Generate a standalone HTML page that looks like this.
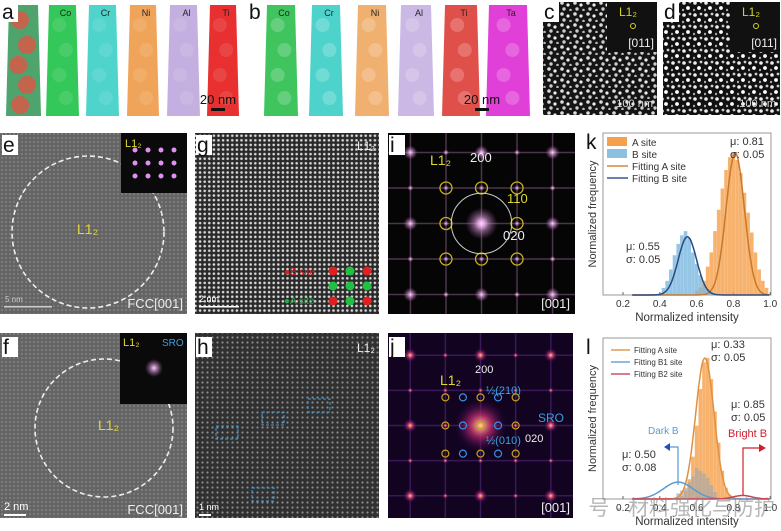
<!DOCTYPE html>
<html><head><meta charset="utf-8"><style>
html,body{margin:0;padding:0;background:#fff;width:781px;height:531px;overflow:hidden}
svg{display:block;font-family:"Liberation Sans","Noto Sans CJK SC",sans-serif}
</style></head><body>
<svg id="fig" width="781" height="531" viewBox="0 0 781 531">
<defs>
<pattern id="latE" width="4" height="4" patternUnits="userSpaceOnUse"><rect width="4" height="4" fill="#646464"/><circle cx="2" cy="2" r="0.9" fill="#8c8c8c"/></pattern>
<pattern id="latG" width="4.6" height="4.6" patternUnits="userSpaceOnUse"><rect width="4.6" height="4.6" fill="#2a2a2a"/><circle cx="2.3" cy="2.3" r="1.3" fill="#d8d8d8"/></pattern>
<pattern id="latH" width="5" height="5" patternUnits="userSpaceOnUse"><rect width="5" height="5" fill="#303030"/><circle cx="2.5" cy="2.5" r="1.1" fill="#8c8c8c"/></pattern>
<pattern id="dots" width="13" height="11" patternUnits="userSpaceOnUse"><rect width="13" height="11" fill="#151515"/><circle cx="3" cy="3" r="1.8" fill="#ddd"/><circle cx="9" cy="5" r="1.6" fill="#eee"/><circle cx="5" cy="9" r="1.7" fill="#ccc"/><circle cx="11.5" cy="10" r="1.3" fill="#bbb"/></pattern>
<pattern id="dots2" width="11" height="12" patternUnits="userSpaceOnUse"><rect width="11" height="12" fill="#111"/><circle cx="2" cy="3" r="1.8" fill="#eee"/><circle cx="8" cy="2" r="1.4" fill="#ccc"/><circle cx="6" cy="8" r="1.9" fill="#fff"/><circle cx="1" cy="10" r="1.2" fill="#aaa"/></pattern>
<radialGradient id="glowP"><stop offset="0" stop-color="#ffd0ff"/><stop offset="1" stop-color="#b060b0" stop-opacity="0"/></radialGradient>
<radialGradient id="glowJ"><stop offset="0" stop-color="#ffd080"/><stop offset="0.4" stop-color="#c03070" stop-opacity="0.8"/><stop offset="1" stop-color="#300050" stop-opacity="0"/></radialGradient>
</defs>
<g id="row1"></g>
<g id="row2"></g>
<g id="chartK"></g>
<g id="chartL"></g>
</svg>
<script>
const NS="http://www.w3.org/2000/svg";
function mk(p,t,a,txt){const e=document.createElementNS(NS,t);for(const k in a)e.setAttribute(k,a[k]);if(txt!==undefined)e.textContent=txt;p.appendChild(e);return e;}
const r1=document.getElementById('row1');
const r2=document.getElementById('row2');

// ---------- chart data ----------
const kBinsA=[0.60,0.62,0.64,0.66,0.68,0.70,0.72,0.74,0.76,0.78,0.80,0.82,0.84,0.86,0.88,0.90,0.92,0.94,0.96,0.98];
const kValsA=[0.03,0.05,0.10,0.20,0.30,0.45,0.60,0.75,0.88,0.97,1.00,0.95,0.86,0.72,0.58,0.44,0.30,0.18,0.10,0.05];
const kBinsB=[0.42,0.44,0.46,0.48,0.50,0.52,0.54,0.56,0.58,0.60,0.62,0.64,0.66,0.68];
const kValsB=[0.05,0.10,0.18,0.28,0.36,0.42,0.45,0.40,0.30,0.22,0.14,0.08,0.04,0.02];
const kFitMu=[0.81,0.55];
const kFitSig=[0.05,0.05];
const kFitPeak=[1.0,0.41];
const lBinsA=[0.52,0.54,0.56,0.58,0.60,0.62,0.64,0.66,0.68,0.70,0.72,0.74,0.76,0.78];
const lValsA=[0.02,0.06,0.14,0.30,0.52,0.78,0.97,1.00,0.85,0.62,0.40,0.20,0.08,0.03];
const lBinsG=[0.50,0.52,0.54,0.56,0.58,0.60,0.62,0.64,0.66,0.68,0.70];
const lValsG=[0.04,0.06,0.08,0.12,0.16,0.22,0.20,0.18,0.15,0.10,0.05];
const lFitMu=[0.645,0.50,0.85];
const lFitSig=[0.05,0.08,0.05];
const lFitPeak=[1.0,0.12,0.025];
const xTicks=[0.2,0.4,0.6,0.8,1.0];

// ---------- row 1 ----------
const cyl=[
 [6,41,'#4fa36c','mixed',null],[46,79,'#34c85a','Co',null],[86,119,'#4fd4cc','Cr',null],
 [127,159,'#f0a45a','Ni',null],[167,200,'#c4b0e0','Al',null],[207,239,'#e83030','Ti',null],
 [264,298,'#3fc45e','Co',1],[309,343,'#4ed2cc','Cr',1],[355,389,'#f0b070','Ni',1],
 [398,434,'#cbb8e4','Al',1],[442,480,'#e0504a','Ti',1],[486,530,'#e040d8','Ta',1]];
cyl.forEach((c,i)=>{
  const g=mk(r1,'g',{});
  
  
  const [x0,x1,col]=c,t=3;
  mk(g,'polygon',{points:`${x0+t},5 ${x1-t},5 ${x1},116 ${x0},116`,fill:col});
  const w=x1-x0;
  if(c[3]==='mixed'){
    [[0.4,20],[0.6,45],[0.35,65],[0.6,85],[0.4,105]].forEach(p=>mk(g,'circle',{cx:x0+w*p[0],cy:p[1],r:9,fill:'#e05545',opacity:0.8}));
  } else {
    [[0.4,25],[0.6,50],[0.4,75],[0.6,98]].forEach(p=>mk(g,'circle',{cx:x0+w*p[0],cy:p[1],r:7,fill:'#fff',opacity:c[4]?0.2:0.1}));
  }
  if(c[3]!=='mixed') mk(g,'text',{x:(x0+x1)/2+3,y:16,'font-size':9,'text-anchor':'middle',fill:'#222'},c[3]);
});
[[218,'20 nm'],[482,'20 nm']].forEach(s=>{
  mk(r1,'text',{x:s[0],y:104,'font-size':13,'text-anchor':'middle',fill:'#111'},s[1]);
  mk(r1,'rect',{x:s[0]-7,y:108,width:14,height:3,fill:'#111'});
});
mk(r1,'rect',{x:0,y:0,width:18,height:22,fill:'#fff'});
mk(r1,'text',{x:2,y:19,'font-size':21,fill:'#111'},'a');
mk(r1,'text',{x:249,y:19,'font-size':21,fill:'#111'},'b');
[[543,657,'dots','c','100 nm'],[663,780,'dots2','d','100 nm']].forEach(p=>{
  const g=mk(r1,'g',{});
  
  
  mk(g,'rect',{x:p[0],y:2,width:p[1]-p[0],height:113,fill:`url(#${p[2]})`});
  mk(g,'rect',{x:p[1]-50,y:2,width:50,height:50,fill:'#111'});
  mk(g,'text',{x:p[1]-38,y:16,'font-size':12,fill:'#d8d020'},'L1₂');
  mk(g,'circle',{cx:p[1]-24,cy:26,r:2.5,fill:'none',stroke:'#d8d020'});
  mk(g,'text',{x:p[1]-3,y:47,'font-size':12,'text-anchor':'end',fill:'#eee'},'[011]');
  mk(g,'text',{x:p[1]-4,y:107,'font-size':11,'text-anchor':'end',fill:'#ddd'},p[4]);
  mk(g,'rect',{x:p[0],y:2,width:16,height:20,fill:'#fff'});
  mk(g,'text',{x:p[0]+1,y:19,'font-size':21,fill:'#111'},p[3]);
});

// ---------- rows 2-3 ----------
function panelLabel(x,y,l){mk(r2,'rect',{x:x,y:y-17,width:16,height:20,fill:'#fff'});mk(r2,'text',{x:x+1,y:y,'font-size':21,fill:'#111'},l);}
function fft(g,x,y,w,h,bg,glow,spotCol,cr){
  mk(g,'rect',{x,y,width:w,height:h,fill:bg});
  const cx=x+w/2,cy=y+h/2,s=w*0.19;
  for(let i=-2;i<=2;i++){mk(g,'line',{x1:cx+i*s,y1:y,x2:cx+i*s,y2:y+h,stroke:spotCol,'stroke-opacity':0.35,'stroke-width':1.5});
    mk(g,'line',{x1:x,y1:cy+i*s,x2:x+w,y2:cy+i*s,stroke:spotCol,'stroke-opacity':0.35,'stroke-width':1.5});}
  for(let i=-2;i<=2;i++)for(let j=-2;j<=2;j++)mk(g,'circle',{cx:cx+i*s,cy:cy+j*s,r:(i%2===0&&j%2===0)?7:3,fill:`url(#${glow})`});
  mk(g,'circle',{cx,cy,r:s*cr,fill:`url(#${glow})`});
  return [cx,cy,s];
}
let g=mk(r2,'g',{});
mk(g,'rect',{x:0,y:133,width:187,height:181,fill:'url(#latE)'});
mk(g,'ellipse',{cx:88,cy:232,rx:76,ry:76,fill:'none',stroke:'#eee','stroke-width':1.6,'stroke-dasharray':'5,3'});
mk(g,'text',{x:77,y:234,'font-size':14,fill:'#e0d830'},'L1₂');
mk(g,'rect',{x:121,y:133,width:66,height:60,fill:'#0a0a0a'});
for(let i=0;i<4;i++)for(let j=0;j<3;j++)mk(g,'circle',{cx:135+i*13,cy:150+j*13,r:2.5,fill:'#e090f0'});
mk(g,'text',{x:125,y:147,'font-size':11,fill:'#e0d830'},'L1₂');
mk(g,'text',{x:183,y:308,'font-size':13,'text-anchor':'end',fill:'#eee'},'FCC[001]');
mk(g,'text',{x:5,y:302,'font-size':8,fill:'#ccc'},'5 nm');mk(g,'rect',{x:4,y:306,width:48,height:1.5,fill:'#ccc'});
g=mk(r2,'g',{});
mk(g,'rect',{x:195,y:133,width:184,height:181,fill:'url(#latG)'});
mk(g,'text',{x:375,y:150,'font-size':12,'text-anchor':'end',fill:'#eee'},'L1₂');
[[0,0,'#e02020'],[1,0,'#20c040'],[2,0,'#e02020'],[0,1,'#20c040'],[1,1,'#20c040'],[2,1,'#20c040'],[0,2,'#e02020'],[1,2,'#20c040'],[2,2,'#e02020']].forEach(a=>mk(g,'circle',{cx:333+a[0]*17,cy:271+a[1]*15,r:4.5,fill:a[2]}));
mk(g,'text',{x:284,y:275,'font-size':10,fill:'#e02020'},'●B site');
mk(g,'text',{x:284,y:304,'font-size':10,fill:'#20b040'},'●A site');
mk(g,'text',{x:199,y:302,'font-size':9,fill:'#fff'},'2 nm');mk(g,'rect',{x:199,y:306,width:40,height:1.5,fill:'#fff'});
g=mk(r2,'g',{});
let [cx,cy,s]=fft(g,388,133,187,181,'#050505','glowP','#d090d0',0.45);
for(let i=-1;i<=1;i++)for(let j=-1;j<=1;j++)if(i||j)mk(g,'circle',{cx:cx+i*s,cy:cy+j*s,r:6,fill:'none',stroke:'#c8b020','stroke-width':1.3});
mk(g,'circle',{cx,cy,r:s*0.85,fill:'none',stroke:'#ccc','stroke-width':1});
mk(g,'text',{x:430,y:165,'font-size':14,fill:'#e0d830'},'L1₂');
mk(g,'text',{x:470,y:162,'font-size':13,fill:'#eee'},'200');
mk(g,'text',{x:507,y:203,'font-size':13,fill:'#e0d830'},'110');
mk(g,'text',{x:503,y:240,'font-size':13,fill:'#eee'},'020');
mk(g,'text',{x:570,y:308,'font-size':13,'text-anchor':'end',fill:'#eee'},'[001]');
g=mk(r2,'g',{});
mk(g,'rect',{x:0,y:333,width:187,height:185,fill:'url(#latE)'});
mk(g,'circle',{cx:104,cy:428,r:69,fill:'none',stroke:'#eee','stroke-width':1.6,'stroke-dasharray':'5,3'});
mk(g,'text',{x:98,y:430,'font-size':14,fill:'#e0d830'},'L1₂');
mk(g,'rect',{x:120,y:333,width:67,height:71,fill:'#0a0a0a'});
mk(g,'circle',{cx:154,cy:368,r:9,fill:'url(#glowP)'});
mk(g,'text',{x:123,y:346,'font-size':11,fill:'#e0d830'},'L1₂');
mk(g,'text',{x:162,y:346,'font-size':10,fill:'#3aa0e0'},'SRO');
mk(g,'text',{x:183,y:514,'font-size':13,'text-anchor':'end',fill:'#eee'},'FCC[001]');
mk(g,'text',{x:4,y:510,'font-size':11,fill:'#fff'},'2 nm');mk(g,'rect',{x:4,y:514,width:22,height:2,fill:'#fff'});
g=mk(r2,'g',{});
mk(g,'rect',{x:195,y:333,width:184,height:185,fill:'url(#latH)'});
[[226,432],[272,418],[318,405],[262,494]].forEach(b=>mk(g,'rect',{x:b[0]-10,y:b[1]-6,width:22,height:13,fill:'none',stroke:'#3aa0e0','stroke-dasharray':'3,2'}));
mk(g,'text',{x:375,y:352,'font-size':12,'text-anchor':'end',fill:'#eee'},'L1₂');
mk(g,'text',{x:199,y:510,'font-size':9,fill:'#fff'},'1 nm');mk(g,'rect',{x:199,y:514,width:12,height:2,fill:'#fff'});
g=mk(r2,'g',{});
[cx,cy,s]=fft(g,388,333,185,185,'#120420','glowJ','#8040c0',0.75);
for(let i=-2;i<=2;i++)for(let j=-1;j<=1;j++)mk(g,'circle',{cx:cx+i*s*0.5,cy:cy+j*s*0.8,r:3.5,fill:'none',stroke:(i%2===0)?'#c8a020':'#3a90e0','stroke-width':1.2});
mk(g,'text',{x:440,y:385,'font-size':14,fill:'#e0d830'},'L1₂');
mk(g,'text',{x:475,y:373,'font-size':11,fill:'#eee'},'200');
mk(g,'text',{x:486,y:394,'font-size':11,fill:'#3aa0e0'},'½(210)');
mk(g,'text',{x:538,y:422,'font-size':12,fill:'#3aa0e0'},'SRO');
mk(g,'text',{x:486,y:444,'font-size':11,fill:'#3aa0e0'},'½(010)');
mk(g,'text',{x:525,y:442,'font-size':11,fill:'#eee'},'020');
mk(g,'text',{x:570,y:512,'font-size':13,'text-anchor':'end',fill:'#eee'},'[001]');
panelLabel(2,152,'e');panelLabel(196,152,'g');panelLabel(389,152,'i');
panelLabel(2,354,'f');panelLabel(196,354,'h');panelLabel(389,354,'j');

// ---------- charts ----------
const X0=604.6,XS=184;
function xs(v){return X0+(v-0.1)*XS;}
function gauss(x,m,sd){return Math.exp(-0.5*((x-m)/sd)**2);}
function chart(id,top,bottom,peakY,letter){
  const c=document.getElementById(id);
  const ys=v=>bottom-v*(bottom-peakY);
  mk(c,'rect',{x:603,y:top,width:168,height:bottom-top,fill:'#fff',stroke:'#999'});
  xTicks.forEach(t=>{mk(c,'line',{x1:xs(t),y1:bottom,x2:xs(t),y2:bottom-3,stroke:'#666'});
    const tl=mk(c,'text',{x:xs(t),y:bottom+12,'font-size':10,'text-anchor':'middle',fill:'#333'},t.toFixed(1));
    });
  const xt=mk(c,'text',{x:687,y:bottom+26,'font-size':11.5,'text-anchor':'middle',fill:'#333'},'Normalized intensity');
  
  const yt=mk(c,'text',{x:0,y:0,'font-size':11,'text-anchor':'middle',fill:'#333',transform:`translate(596,${(top+bottom)/2}) rotate(-90)`},'Normalized frequency');
  
  mk(c,'rect',{x:582,y:top-2,width:18,height:22,fill:'#fff'});
  mk(c,'text',{x:586,y:top+16,'font-size':21,fill:'#111'},letter);
  return ys;
}
function bars(c,bins,vals,ys,col,op,name){
  bins.forEach((b,i)=>{const r=mk(c,'rect',{x:xs(b)-1.8,y:ys(vals[i]),width:3.6,height:ys(0)-ys(vals[i]),fill:col,opacity:op});
    });
}
function curve(c,m,sd,pk,ys,col,name){
  let d='';for(let x=0.25;x<=1.0;x+=0.005)d+=(d?'L':'M')+xs(x).toFixed(1)+','+ys(pk*gauss(x,m,sd)).toFixed(1);
  const p=mk(c,'path',{d,fill:'none',stroke:col,'stroke-width':1.5});
  
}
let ck=document.getElementById('chartK');
let ysk=chart('chartK',133,295,153,'k');
bars(ck,kBinsA,kValsA,ysk,'#f5a04a',0.8,'bar-a-site');
bars(ck,kBinsB,kValsB,ysk,'#7ab8e0',0.8,'bar-b-site');
curve(ck,kFitMu[0],kFitSig[0],kFitPeak[0],ysk,'#c8782a','fit-a-site');
curve(ck,kFitMu[1],kFitSig[1],kFitPeak[1],ysk,'#2c4a80','fit-b-site');
[['A site','#f5a04a','box',142],['B site','#8cc0e0','box',154],['Fitting A site','#d08a3a','line',166],['Fitting B site','#3a5a90','line',178]].forEach(e=>{
  const lg=mk(ck,'g',{});
  if(e[2]==='box')mk(lg,'rect',{x:607,y:e[3]-5,width:20,height:9,fill:e[1]});else mk(lg,'line',{x1:607,y1:e[3],x2:628,y2:e[3],stroke:e[1],'stroke-width':1.5});
  mk(lg,'text',{x:632,y:e[3]+4,'font-size':10,fill:'#333'},e[0]);});
mk(ck,'text',{x:730,y:145,'font-size':11,fill:'#333'},'μ: 0.81');
mk(ck,'text',{x:730,y:158,'font-size':11,fill:'#333'},'σ: 0.05');
mk(ck,'text',{x:626,y:250,'font-size':11,fill:'#333'},'μ: 0.55');
mk(ck,'text',{x:626,y:263,'font-size':11,fill:'#333'},'σ: 0.05');
let cl=document.getElementById('chartL');
let ysl=chart('chartL',338,499,358,'l');
bars(cl,lBinsA,lValsA,ysl,'#f5a04a',0.8,'bar-a-site');
bars(cl,lBinsG,lValsG,ysl,'#a8a8a8',0.7,'bar-b-site');
curve(cl,lFitMu[0],lFitSig[0],lFitPeak[0],ysl,'#e09040','fit-a-site');
curve(cl,lFitMu[1],lFitSig[1],lFitPeak[1],ysl,'#5a9ad0','fit-b1-site');
curve(cl,lFitMu[2],lFitSig[2],lFitPeak[2],ysl,'#d04050','fit-b2-site');
[['Fitting A site','#e09a50',350],['Fitting B1 site','#6aa8d8',362],['Fitting B2 site','#d05060',374]].forEach(e=>{
  const lg=mk(cl,'g',{});
  mk(lg,'line',{x1:611,y1:e[2],x2:630,y2:e[2],stroke:e[1],'stroke-width':1.5});
  mk(lg,'text',{x:634,y:e[2]+3,'font-size':8,fill:'#333'},e[0]);});
mk(cl,'text',{x:711,y:348,'font-size':11,fill:'#333'},'μ: 0.33');
mk(cl,'text',{x:711,y:361,'font-size':11,fill:'#333'},'σ: 0.05');
mk(cl,'text',{x:731,y:408,'font-size':11,fill:'#333'},'μ: 0.85');
mk(cl,'text',{x:731,y:421,'font-size':11,fill:'#333'},'σ: 0.05');
mk(cl,'text',{x:728,y:437,'font-size':11,fill:'#d02030'},'Bright B');
mk(cl,'text',{x:648,y:434,'font-size':10,fill:'#5a9ad0'},'Dark B');
mk(cl,'text',{x:622,y:458,'font-size':11,fill:'#333'},'μ: 0.50');
mk(cl,'text',{x:622,y:471,'font-size':11,fill:'#333'},'σ: 0.08');
mk(cl,'path',{d:'M678,485 L678,447 L668,447',fill:'none',stroke:'#5a9ad0','stroke-width':1.2});
mk(cl,'polygon',{points:'664,447 670,443 670,451',fill:'#2050c0'});
mk(cl,'path',{d:'M743,495 L743,448 L760,448',fill:'none',stroke:'#d02030','stroke-width':1.2});
mk(cl,'polygon',{points:'766,448 759,444 759,452',fill:'#d02030'});
const wm=mk(cl,'text',{x:775,y:515,'font-size':21,'text-anchor':'end',fill:'#888',opacity:0.6},'号 · 材料强化与防护');

</script>
</body></html>
